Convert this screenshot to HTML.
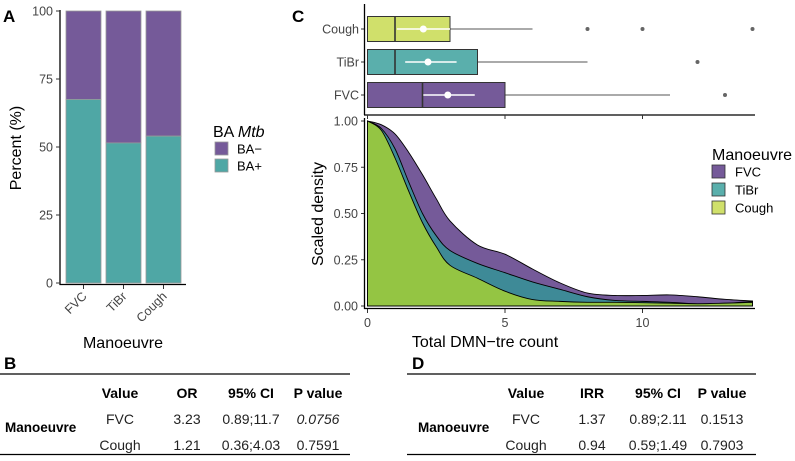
<!DOCTYPE html>
<html><head><meta charset="utf-8"><style>
body{margin:0;background:#fff;font-family:"Liberation Sans",sans-serif}
svg text{font-family:"Liberation Sans",sans-serif}
</style></head><body>
<svg id="fig" width="795" height="456" viewBox="0 0 795 456" xmlns="http://www.w3.org/2000/svg">
<g id="panelA"></g>
<g id="panelC"></g>
<g id="tables"></g>
</svg>
<script>
const NS='http://www.w3.org/2000/svg';
function mk(p,tag,attrs,txt){const e=document.createElementNS(NS,tag);for(const k in attrs)e.setAttribute(k,attrs[k]);if(txt!=null)e.textContent=txt;p.appendChild(e);return e;}

// ---- Panel A data ----
const barCategories=['FVC','TiBr','Cough'];
const baPlus=[67.5,51.5,54];
const yTicksA=[0,25,50,75,100];

// ---- Panel C data ----
const boxGroups=['FVC','TiBr','Cough'];
const boxQ1=[0,0,0];
const boxMedian=[2,1,1];
const boxQ3=[5,4,3];
const boxWhiskerMax=[11,8,6];
const boxMean=[2.92,2.2,2.03];
const boxCiLow=[2.03,1.37,1.07];
const boxCiHigh=[3.9,3.24,3.0];
const outliersFVC=[13];
const outliersTiBr=[12];
const outliersCough=[8,10,14];
const densX=[0,0.5,1,1.5,2,2.5,3,4,5,6,7,8,9,10,11,12,13,14];
const densFVC=[1,0.98,0.93,0.83,0.71,0.58,0.46,0.33,0.28,0.2,0.125,0.07,0.057,0.057,0.06,0.05,0.036,0.027];
const densTiBr=[1,0.96,0.85,0.67,0.5,0.38,0.3,0.23,0.18,0.13,0.09,0.05,0.03,0.025,0.02,0.012,0.015,0.025];
const densCough=[1,0.95,0.8,0.62,0.45,0.32,0.22,0.15,0.08,0.035,0.025,0.02,0.02,0.018,0.015,0.012,0.015,0.02];
const xTicksC=[0,5,10];
const yTicksC=[0,0.25,0.5,0.75,1];

const PURPLE='#755a99', TEAL2='#3e8a97', LIME='#d0e06b', GREEN='#94c543';
const TICK=12.5, TITLE=16, LEG=13, TAB=14;

// ===== Panel A =====
const A=document.getElementById('panelA');
const yA=v=>283-v*2.72;
mk(A,'text',{x:3,y:22,'font-size':17,'font-weight':'bold'},'A');
const bx0=[66,106,146];
barCategories.forEach((c,i)=>{
  let r=mk(A,'rect',{x:bx0[i],y:yA(100),width:35,height:yA(baPlus[i])-yA(100),fill:PURPLE,stroke:'#999','stroke-width':0.8});
  
  r=mk(A,'rect',{x:bx0[i],y:yA(baPlus[i]),width:35,height:yA(0)-yA(baPlus[i]),fill:'#4fa7a5',stroke:'#999','stroke-width':0.8});
  
  const cx=bx0[i]+17.5;
  mk(A,'line',{x1:cx,y1:285,x2:cx,y2:289,stroke:'#333'});
  const t=mk(A,'text',{x:cx+4,y:297,'font-size':TICK,fill:'#444','text-anchor':'end',transform:`rotate(-45 ${cx+4} 297)`},c);
  
});
mk(A,'line',{x1:60,y1:10,x2:60,y2:285,stroke:'#000','stroke-width':1.3});
mk(A,'line',{x1:59.5,y1:284.5,x2:186,y2:284.5,stroke:'#000','stroke-width':1.3});
yTicksA.forEach(v=>{
  mk(A,'line',{x1:56,y1:yA(v),x2:60,y2:yA(v),stroke:'#333'});
  const t=mk(A,'text',{x:53,y:yA(v)+4.5,'font-size':TICK,fill:'#444','text-anchor':'end'},v);
  
});
let t=mk(A,'text',{x:21,y:148,'font-size':TITLE,'text-anchor':'middle',transform:'rotate(-90 21 148)'},'Percent (%)');

t=mk(A,'text',{x:123,y:348,'font-size':TITLE,'text-anchor':'middle'},'Manoeuvre');

t=mk(A,'text',{x:213,y:137,'font-size':TITLE});
t.innerHTML='BA <tspan font-style="italic">Mtb</tspan>';

[['BA−',PURPLE,142],['BA+','#4fa7a5',159]].forEach(([l,c,y])=>{
  const g=mk(A,'g',{});
  mk(g,'rect',{x:215,y:y,width:13,height:13,fill:c,stroke:'#999','stroke-width':0.8});
  mk(g,'text',{x:237,y:y+11.5,'font-size':LEG},l);
});

// ===== Panel C =====
const C=document.getElementById('panelC');
const xC=v=>367.5+v*27.5;
const yC=v=>306-v*185;
mk(C,'text',{x:292,y:22,'font-size':17,'font-weight':'bold'},'C');
const rowY=[95,62,29];
const boxFill=[PURPLE,'#5aafac',LIME];
const outl=[outliersFVC,outliersTiBr,outliersCough];
boxGroups.forEach((g,i)=>{
  const y=rowY[i];
  const grp=mk(C,'g',{});
  mk(grp,'line',{x1:xC(boxQ3[i]),y1:y,x2:xC(boxWhiskerMax[i]),y2:y,stroke:'#555','stroke-width':1});
  mk(grp,'rect',{x:xC(boxQ1[i]),y:y-12.5,width:xC(boxQ3[i])-xC(boxQ1[i]),height:25,fill:boxFill[i],stroke:'#333','stroke-width':1});
  mk(grp,'line',{x1:xC(boxMedian[i]),y1:y-12.5,x2:xC(boxMedian[i]),y2:y+12.5,stroke:'#333','stroke-width':1.6});
  mk(grp,'line',{x1:xC(boxCiLow[i]),y1:y,x2:xC(boxCiHigh[i]),y2:y,stroke:'#fff','stroke-width':1.6});
  mk(grp,'circle',{cx:xC(boxMean[i]),cy:y,r:3.5,fill:'#fff'});
  outl[i].forEach(o=>mk(grp,'circle',{cx:xC(o),cy:y,r:2,fill:'#666'}));
  mk(C,'line',{x1:361,y1:y,x2:364,y2:y,stroke:'#333'});
  const tt=mk(C,'text',{x:359,y:y+4.5,'font-size':TICK,fill:'#444','text-anchor':'end'},g);
  
});
mk(C,'line',{x1:364.5,y1:4,x2:364.5,y2:115,stroke:'#000','stroke-width':1.3});
mk(C,'line',{x1:364,y1:115,x2:755,y2:115,stroke:'#000','stroke-width':1.3});
xTicksC.forEach(v=>mk(C,'line',{x1:xC(v),y1:115,x2:xC(v),y2:119,stroke:'#333'}));

function areaPath(vals){
  let d=`M${xC(densX[0])},${yC(0)}`;
  const pts=densX.map((x,i)=>[xC(x),yC(vals[i])]);
  d+=` L${pts[0][0]},${pts[0][1]}`;
  for(let i=0;i<pts.length-1;i++){
    const p0=pts[Math.max(i-1,0)],p1=pts[i],p2=pts[i+1],p3=pts[Math.min(i+2,pts.length-1)];
    const c1=[p1[0]+(p2[0]-p0[0])/6,p1[1]+(p2[1]-p0[1])/6],c2=[p2[0]-(p3[0]-p1[0])/6,p2[1]-(p3[1]-p1[1])/6];
    d+=` C${c1[0]},${c1[1]} ${c2[0]},${c2[1]} ${p2[0]},${p2[1]}`;
  }
  d+=` L${xC(densX[densX.length-1])},${yC(0)} Z`;
  return d;
}
[['fvc',densFVC,PURPLE],['tibr',densTiBr,TEAL2],['cough',densCough,GREEN]].forEach(([n,v,c])=>{
  const p=mk(C,'path',{d:areaPath(v),fill:c,stroke:'#000','stroke-width':0.9});
  
});
mk(C,'line',{x1:364.5,y1:118,x2:364.5,y2:309,stroke:'#000','stroke-width':1.3});
mk(C,'line',{x1:364,y1:308.5,x2:755,y2:308.5,stroke:'#000','stroke-width':1.3});
yTicksC.forEach(v=>{
  mk(C,'line',{x1:361,y1:yC(v),x2:364,y2:yC(v),stroke:'#333'});
  const tt=mk(C,'text',{x:358,y:yC(v)+4.5,'font-size':TICK,fill:'#444','text-anchor':'end'},v.toFixed(2));
  
});
xTicksC.forEach(v=>{
  mk(C,'line',{x1:xC(v),y1:309,x2:xC(v),y2:313,stroke:'#333'});
  const tt=mk(C,'text',{x:xC(v),y:327,'font-size':TICK,fill:'#444','text-anchor':'middle'},v);
  
});
t=mk(C,'text',{x:485,y:347,'font-size':TITLE,'text-anchor':'middle'},'Total DMN−tre count');

t=mk(C,'text',{x:323,y:214,'font-size':TITLE,'text-anchor':'middle',transform:'rotate(-90 323 214)'},'Scaled density');

t=mk(C,'text',{x:712,y:160,'font-size':TITLE},'Manoeuvre');

[['FVC',PURPLE,165],['TiBr','#5aafac',183],['Cough',LIME,201]].forEach(([l,c,y])=>{
  const g=mk(C,'g',{});
  mk(g,'rect',{x:712,y:y,width:13,height:13,fill:c,stroke:'#333','stroke-width':0.8});
  mk(g,'text',{x:735,y:y+11.5,'font-size':LEG},l);
});

// ===== Tables =====
const T=document.getElementById('tables');
function table(x0,x1,label,lx,hdr,cols,rows,italicP){
  const g=mk(T,'g',{});
  mk(g,'text',{x:lx,y:369,'font-size':17,'font-weight':'bold'},label);
  mk(g,'line',{x1:x0,y1:374,x2:x1,y2:374,stroke:'#000','stroke-width':1.2});
  mk(g,'line',{x1:x0,y1:454.5,x2:x1,y2:454.5,stroke:'#000','stroke-width':1.2});
  hdr.forEach((h,i)=>mk(g,'text',{x:cols[i],y:398,'font-size':TAB,'font-weight':'bold','text-anchor':'middle'},h));
  mk(g,'text',{x:x0+5+(label==='D'?6:0),y:432,'font-size':TAB-0.5,'font-weight':'bold'},'Manoeuvre');
  rows.forEach((r,ri)=>r.forEach((c,i)=>{
    const a={x:cols[i],y:424+ri*26,'font-size':TAB,fill:'#222','text-anchor':'middle'};
    if(italicP&&ri===0&&i===3)a['font-style']='italic';
    mk(g,'text',a,c);
  }));
}
table(0,350,'B',4,['Value','OR','95% CI','P value'],[120,187,251,318],[['FVC','3.23','0.89;11.7','0.0756'],['Cough','1.21','0.36;4.03','0.7591']],true);
table(407,756,'D',412,['Value','IRR','95% CI','P value'],[526,592,658,722],[['FVC','1.37','0.89;2.11','0.1513'],['Cough','0.94','0.59;1.49','0.7903']],false);
</script>
</body></html>
